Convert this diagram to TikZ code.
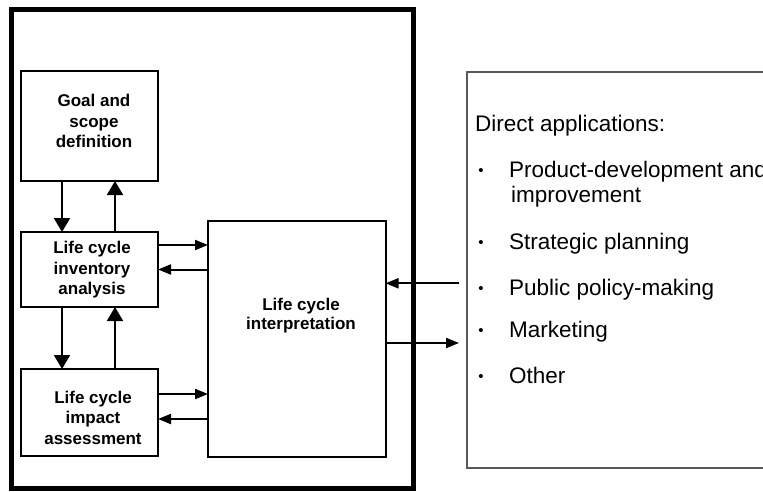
\documentclass[tikz,border=0pt]{standalone}
\usepackage{fontspec}
\setmainfont{Liberation Sans}
\usetikzlibrary{arrows.meta}
\begin{document}
\begin{tikzpicture}[x=1pt,y=-1pt,
 box/.style={draw, line width=2pt, inner sep=0pt, outer sep=0pt},
 btxt/.style={align=center, inner sep=0pt, font=\fontsize{17}{20.5}\selectfont\bfseries},
 rtxt/.style={anchor=base west, inner sep=0pt, font=\fontsize{22.5}{26}\selectfont},
 bul/.style={anchor=base, inner sep=0pt, font=\fontsize{15}{15}\selectfont},
 varrow/.style={line width=2pt, -{Triangle[length=14pt,width=16pt]}},
 harrow/.style={line width=2pt, -{Triangle[length=13pt,width=10pt]}},
]
\useasboundingbox (0,0) rectangle (763,491);
\fill[white] (0,0) rectangle (763,491);
% outer frame
\node[draw, line width=5pt, inner sep=0pt, outer sep=0pt, minimum width=402pt, minimum height=479pt] (frame) at (212.6,249) {};
% boxes
\node[box, minimum width=137pt, minimum height=110pt] (goal) at (89.5,126) {};
\node[box, minimum width=137pt, minimum height=75pt] (inv) at (89.5,269.5) {};
\node[box, minimum width=137pt, minimum height=87pt] (imp) at (89.5,412.5) {};
\node[box, minimum width=177.5pt, minimum height=236pt] (interp) at (296.75,338.5) {};
% right box
\node[draw=black!65, line width=1.2pt, inner sep=0pt, outer sep=0pt, minimum width=320pt, minimum height=396pt] (apps) at (627,270) {};
% box texts
\node[btxt] (goalt) at (94,121) {Goal and\\scope\\definition};
\node[btxt] (invt) at (92,270) {Life cycle\\inventory\\analysis};
\node[btxt] (impt) at (93,417.5) {Life cycle\\impact\\assessment};
\node[btxt, font=\fontsize{17}{18.6}\selectfont\bfseries] (intt) at (301,315.7) {Life cycle\\interpretation};
% vertical arrows
\draw[varrow] ([xshift=-27.5pt]goal.south) -- ([xshift=-27.5pt]inv.north);
\draw[varrow] ([xshift=25.5pt]inv.north) -- ([xshift=25.5pt]goal.south);
\draw[varrow] ([xshift=-27.5pt]inv.south) -- ([xshift=-27.5pt]imp.north);
\draw[varrow] ([xshift=25.5pt]imp.north) -- ([xshift=25.5pt]inv.south);
% horizontal arrows
\coordinate (i1) at ([yshift=24.5pt]inv.east);
\coordinate (i2) at (inv.east);
\coordinate (m1) at ([yshift=18.5pt]imp.east);
\coordinate (m2) at ([yshift=-6.5pt]imp.east);
\draw[harrow] (i1) -- (i1 -| interp.west);
\draw[harrow] (i2 -| interp.west) -- (i2);
\draw[harrow] (m1) -- (m1 -| interp.west);
\draw[harrow] (m2 -| interp.west) -- (m2);
% right arrows
\coordinate (rA) at (459,283.3);
\coordinate (rB) at (459,343);
\draw[harrow] (rA) -- (rA -| interp.east);
\draw[harrow] (rB -| interp.east) -- (rB);
% right texts
\node[rtxt] (hd) at (475,131.7) {Direct applications:};
\node[bul] (b1) at (481,177.3) {\raisebox{1.8pt}{•}};
\node[rtxt] (a1) at (509,177.3) {Product-development and};
\node[rtxt] (a1b) at (511,202.7) {improvement};
\node[bul] (b2) at (481,249.3) {\raisebox{1.8pt}{•}};
\node[rtxt] (a2) at (509,249.3) {Strategic planning};
\node[bul] (b3) at (481,295) {\raisebox{1.8pt}{•}};
\node[rtxt] (a3) at (509,295) {Public policy-making};
\node[bul] (b4) at (481,337.3) {\raisebox{1.8pt}{•}};
\node[rtxt] (a4) at (509,337.3) {Marketing};
\node[bul] (b5) at (481,383.3) {\raisebox{1.8pt}{•}};
\node[rtxt] (a5) at (509,383.3) {Other};
\end{tikzpicture}
\end{document}
